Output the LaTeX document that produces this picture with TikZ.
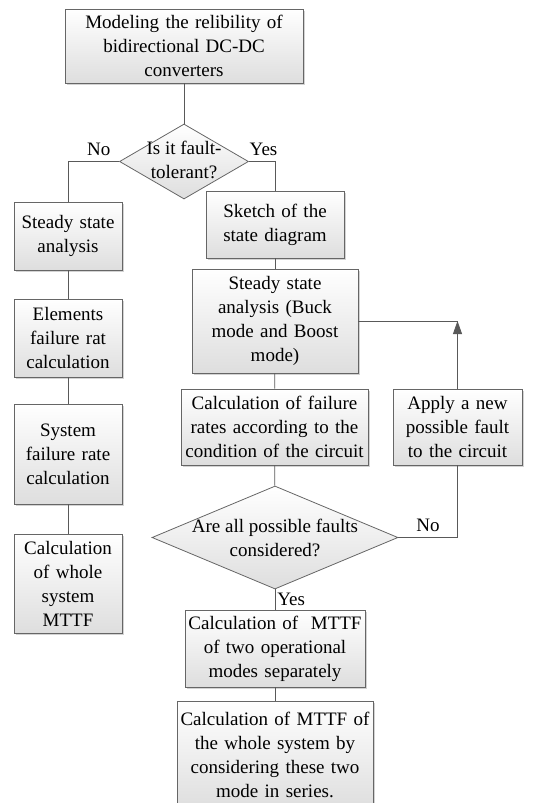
\documentclass[tikz,border=0pt]{standalone}
\usepackage{fontspec}
\setmainfont{Liberation Serif}
\usetikzlibrary{shapes.geometric, shadows, arrows.meta}

\begin{document}
\begin{tikzpicture}[
        x=1pt, y=-1pt,
        every node/.style={font=\fontsize{19}{24}\selectfont},
        stagebox/.style={draw=black!60, line width=0.8pt, rectangle, align=center,
            inner sep=1.5pt, top color=white, bottom color=black!13,
            drop shadow={shadow xshift=2pt, shadow yshift=-2pt, opacity=.35}},
        decision/.style={draw=black!60, line width=0.8pt, diamond, inner sep=0pt,
            top color=white, bottom color=black!13},
        link/.style={draw=black!65, line width=0.8pt}]

        \useasboundingbox (0,0) rectangle (542,803);

        \node[stagebox, text width=235pt, minimum height=74pt] (model) at (184,46)
            {Modeling the relibility of\\bidirectional DC-DC\\converters};
        \node[decision, minimum width=129pt, minimum height=75pt,
            label={[align=center, yshift=2pt]center:Is it fault-\\tolerant?}] (tol) at (184,161.5) {};

        % no fault tolerance
        \node[stagebox, text width=105pt, minimum height=68pt] (ssl) at (68,236)
            {Steady state\\analysis};
        \node[stagebox, text width=105pt, minimum height=78pt] (elem) at (68,338)
            {Elements\\failure rat\\calculation};
        \node[stagebox, text width=105pt, minimum height=100pt] (sys) at (68,454)
            {System\\failure rate\\calculation};
        \node[stagebox, text width=105pt, minimum height=99pt] (whole) at (68,583.5)
            {Calculation\\of whole\\system\\MTTF};

        % fault tolerant
        \node[stagebox, text width=135pt, minimum height=67pt] (sketch) at (275,224.5)
            {Sketch of the\\state diagram};
        \node[stagebox, text width=163pt, minimum height=104pt] (ssr) at (275,321)
            {Steady state\\analysis (Buck\\mode and Boost\\mode)};
        \node[stagebox, text width=184pt, minimum height=76pt] (rates) at (274.5,427)
            {Calculation of failure\\rates according to the\\condition of the circuit};
        \node[stagebox, text width=126pt, minimum height=76pt] (apply) at (457.5,427)
            {Apply a new\\possible fault\\to the circuit};
        \node[decision, minimum width=246pt, minimum height=103pt,
            label={[align=center]center:Are all possible faults\\considered?}] (all) at (275,537.5) {};
        \node[stagebox, text width=177pt, minimum height=77pt] (modes) at (275,648.5)
            {Calculation of\ \ MTTF\\of two operational\\modes separately};
        \node[stagebox, text width=193pt, minimum height=108pt] (series) at (275,755)
            {Calculation of MTTF of\\the whole system by\\considering these two\\mode in series.};

        \coordinate (back) at (apply.north |- ssr.east);

        \draw[link] (model) -- (tol);
        \draw[link] (tol.west) -| node[above, pos=.2, yshift=2pt] {No} (ssl.north);
        \draw[link] (tol.east) -| node[above, pos=.28, yshift=2pt] {Yes} (sketch.north);
        \draw[link] (ssl) -- (elem);
        \draw[link] (elem) -- (sys);
        \draw[link] (sys) -- (whole);
        \draw[link] (sketch) -- (ssr);
        \draw[link] (ssr) -- (rates);
        \draw[link] (rates) -- (all);
        \draw[link] (all.east) -| node[above, pos=.25, yshift=2pt] {No} (apply.south);
        \draw[link, -{Triangle[width=9pt, length=13pt]}] (apply.north) -- (back);
        \draw[link] (ssr.east) -- (back);
        \draw[link] (all.south) -- node[right, midway, inner sep=2pt] {Yes} (modes.north);
        \draw[link] (modes) -- (series);

    \end{tikzpicture}
\end{document}
